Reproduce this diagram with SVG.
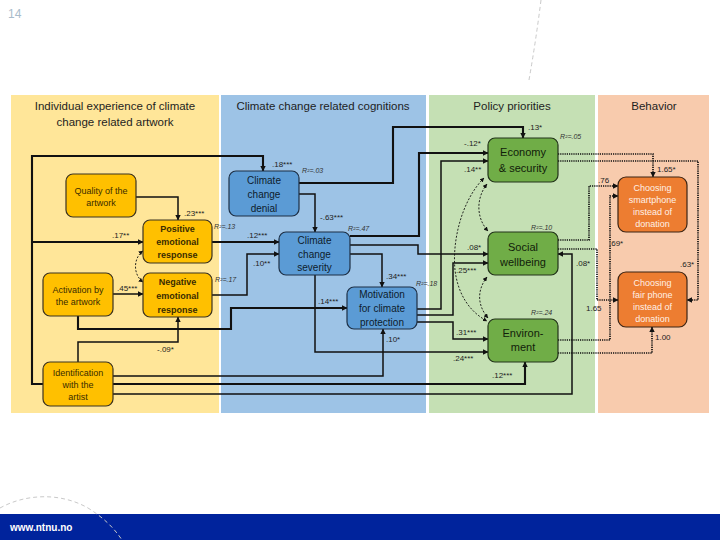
<svg xmlns="http://www.w3.org/2000/svg" width="720" height="540" viewBox="0 0 720 540">
<defs>
<marker id="ah" viewBox="0 0 6 6" refX="5.6" refY="3" markerWidth="5.5" markerHeight="5.5" markerUnits="userSpaceOnUse" orient="auto-start-reverse"><path d="M0,0 L6,3 L0,6 z" fill="#111"/></marker>
<marker id="as" viewBox="0 0 6 6" refX="5.6" refY="3" markerWidth="4.5" markerHeight="4.5" markerUnits="userSpaceOnUse" orient="auto-start-reverse"><path d="M0,0 L6,3 L0,6 z" fill="#111"/></marker>
</defs>
<style>
text{font-family:"Liberation Sans",Arial,sans-serif}
.title{font-size:11.5px;fill:#1e1e1e;text-anchor:middle}
.nt{text-anchor:middle}
.y rect{fill:#FFC000;stroke:#3b3220;stroke-width:1.2}
.y text{fill:#3a2c00;font-size:9px}
.y text.bo{font-weight:bold;font-size:9px}
.bl rect{fill:#5B9BD5;stroke:#1d2f45;stroke-width:1.2}
.bl text{fill:#0e1c2c;font-size:10px}
.g rect{fill:#70AD47;stroke:#22331a;stroke-width:1.2}
.g text{fill:#10200a;font-size:11px}
.o rect{fill:#ED7D31;stroke:#3b2414;stroke-width:1.2}
.o text{fill:#fff0e6;font-size:9px}
.c{fill:none;stroke:#111;stroke-width:1.5;marker-end:url(#ah)}
.bd{stroke-width:2.1}
.dc{fill:none;stroke:#111;stroke-width:0.9;stroke-dasharray:2 1.6;marker-start:url(#as);marker-end:url(#as)}
.dt{fill:none;stroke:#111;stroke-width:1.7;stroke-dasharray:1.2 1;marker-end:url(#ah)}
.lab{font-size:8px;fill:#222}
.r2{font-size:7px;font-style:italic;fill:#333}
.deco{fill:none;stroke:#c9c9c9;stroke-width:1;stroke-dasharray:4 3}
</style>
<rect width="720" height="540" fill="#fff"/>
<text x="8" y="18" font-size="12" fill="#a9bccb">14</text>
<path class="deco" d="M541,0 Q536,40 529,80"/>

<g id="panels">
<rect x="11" y="95" width="208" height="318" fill="#FFE699"/>
<rect x="221" y="95" width="205" height="318" fill="#9DC3E6"/>
<rect x="429" y="95" width="166" height="318" fill="#C5E0B4"/>
<rect x="598" y="95" width="111" height="318" fill="#F8CBAD"/>
<text class="title" x="115" y="110">Individual experience of climate</text>
<text class="title" x="115" y="126">change related artwork</text>
<text class="title" x="323" y="110">Climate change related cognitions</text>
<text class="title" x="512" y="110">Policy priorities</text>
<text class="title" x="654" y="110">Behavior</text>
</g>

<g id="connectors">
<path class="c bd" d="M43,384 H32 V156 H263 V171"/>
<path class="c bd" d="M32,242 H143"/>
<path class="c" d="M136,197 H178 V220"/>
<path class="c" d="M113,294 H143"/>
<path class="dc" d="M143,251 C133,258 133,275 143,282"/>
<path class="c bd" d="M78,316 V329 H231 V308 H347"/>
<path class="c" d="M78,362 V342 H178 V317"/>
<path class="c" d="M113,376 H383 V329"/>
<path class="c bd" d="M113,384 H525 V362"/>
<path class="c" d="M113,394 H572 V254 H558"/>
<path class="c" d="M299,194 H315 V232"/>
<path class="c bd" d="M299,183 H393 V127 H523 V138"/>
<path class="c bd" d="M212,242 H279"/>
<path class="c" d="M212,295 H247 V254 H279"/>
<path class="c bd" d="M350,236 H419 V153 H488"/>
<path class="c" d="M350,245 H418 V254 H488"/>
<path class="c" d="M350,254 H382 V287"/>
<path class="c" d="M315,275 V352 H488"/>
<path class="c" d="M417,309 H441 V161 H488"/>
<path class="c" d="M417,315 H453 V263 H488"/>
<path class="c" d="M417,322 H453 V339 H488"/>
<path class="dc" d="M487,184 C476,198 476,218 488,231"/>
<path class="dc" d="M487,277 C477,290 477,305 488,318"/>
<path class="dc" d="M484,178 C462,200 452,240 455,270 C458,295 470,312 487,321"/>
<path class="dt" d="M558,154 H653 V177"/>
<path class="dt" d="M558,161 H698 V300 H687"/>
<path class="dt" d="M558,240 H589 V186 H618"/>
<path class="dt" d="M558,249 H597 V300 H618"/>
<path class="dt" d="M558,340 H610 V196 H618"/>
<path class="dt" d="M558,353 H652 V327"/>

<text class="lab" x="272" y="167">.18***</text>
<text class="lab" x="184" y="216">.23***</text>
<text class="lab" x="112" y="238">.17**</text>
<text class="lab" x="117" y="291">.45***</text>
<text class="lab" x="318" y="304">.14***</text>
<text class="lab" x="157" y="352">-.09*</text>
<text class="lab" x="386" y="342">.10*</text>
<text class="lab" x="492" y="378">.12***</text>
<text class="lab" x="576" y="266">.08*</text>
<text class="lab" x="320" y="220">-.63***</text>
<text class="lab" x="528" y="130">.13*</text>
<text class="lab" x="247" y="238">.12***</text>
<text class="lab" x="253" y="266">.10**</text>
<text class="lab" x="464" y="146">-.12*</text>
<text class="lab" x="467" y="250">.08*</text>
<text class="lab" x="386" y="279">.34***</text>
<text class="lab" x="453" y="361">.24***</text>
<text class="lab" x="464" y="172">.14**</text>
<text class="lab" x="456" y="273">.25***</text>
<text class="lab" x="456" y="335">.31***</text>
<text class="lab" x="657" y="172">1.65*</text>
<text class="lab" x="680" y="267">.63*</text>
<text class="lab" x="598" y="183">.76</text>
<text class="lab" x="586" y="311">1.65</text>
<text class="lab" x="609" y="246">.69*</text>
<text class="lab" x="655" y="340">1.00</text>

<text class="r2" x="302" y="173">R²=.03</text>
<text class="r2" x="214" y="229">R²=.13</text>
<text class="r2" x="215" y="282">R²=.17</text>
<text class="r2" x="348" y="231">R²=.47</text>
<text class="r2" x="416" y="286">R²=.18</text>
<text class="r2" x="560" y="139">R²=.05</text>
<text class="r2" x="531" y="230">R²=.10</text>
<text class="r2" x="531" y="315">R²=.24</text>
</g>

<g id="quality" class="y"><rect x="66" y="174" width="70" height="43" rx="7"/><text class="nt" x="101" y="194">Quality of the</text><text class="nt" x="101" y="206">artwork</text></g>
<g id="positive" class="y"><rect x="143" y="220" width="69" height="43" rx="7"/><text class="nt bo" x="177.5" y="232">Positive</text><text class="nt bo" x="177.5" y="245">emotional</text><text class="nt bo" x="177.5" y="258">response</text></g>
<g id="negative" class="y"><rect x="143" y="273" width="69" height="44" rx="7"/><text class="nt bo" x="177.5" y="285">Negative</text><text class="nt bo" x="177.5" y="299">emotional</text><text class="nt bo" x="177.5" y="313">response</text></g>
<g id="activation" class="y"><rect x="43" y="273" width="70" height="43" rx="7"/><text class="nt" x="78" y="293">Activation by</text><text class="nt" x="78" y="305">the artwork</text></g>
<g id="identification" class="y"><rect x="43" y="362" width="70" height="44" rx="7"/><text class="nt" x="78" y="376">Identification</text><text class="nt" x="78" y="388">with the</text><text class="nt" x="78" y="400">artist</text></g>

<g id="denial" class="bl"><rect x="229" y="171" width="70" height="45" rx="7"/><text class="nt" x="264" y="184">Climate</text><text class="nt" x="264" y="198">change</text><text class="nt" x="264" y="212">denial</text></g>
<g id="severity" class="bl"><rect x="279" y="232" width="71" height="43" rx="7"/><text class="nt" x="314.5" y="244">Climate</text><text class="nt" x="314.5" y="258">change</text><text class="nt" x="314.5" y="271">severity</text></g>
<g id="motivation" class="bl"><rect x="347" y="287" width="70" height="42" rx="7"/><text class="nt" x="382" y="298">Motivation</text><text class="nt" x="382" y="312">for climate</text><text class="nt" x="382" y="326">protection</text></g>

<g id="economy" class="g"><rect x="488" y="138" width="70" height="44" rx="7"/><text class="nt" x="523" y="156">Economy</text><text class="nt" x="523" y="172">&amp; security</text></g>
<g id="social" class="g"><rect x="488" y="232" width="70" height="43" rx="7"/><text class="nt" x="523" y="251">Social</text><text class="nt" x="523" y="266">wellbeing</text></g>
<g id="environment" class="g"><rect x="488" y="319" width="70" height="43" rx="7"/><text class="nt" x="523" y="337">Environ-</text><text class="nt" x="523" y="351">ment</text></g>

<g id="smartphone" class="o"><rect x="618" y="177" width="69" height="55" rx="8"/><text class="nt" x="652.5" y="191">Choosing</text><text class="nt" x="652.5" y="203">smartphone</text><text class="nt" x="652.5" y="215">instead of</text><text class="nt" x="652.5" y="227">donation</text></g>
<g id="fairphone" class="o"><rect x="618" y="272" width="69" height="55" rx="8"/><text class="nt" x="652.5" y="286">Choosing</text><text class="nt" x="652.5" y="298">fair phone</text><text class="nt" x="652.5" y="310">instead of</text><text class="nt" x="652.5" y="322">donation</text></g>

<g id="footer">
<rect x="0" y="514" width="720" height="26" fill="#00239C"/>
<text x="10" y="531" font-size="10" font-weight="bold" fill="#fff">www.ntnu.no</text>
<path class="deco" d="M0,508 C25,494 60,492 88,508 C104,518 114,528 122,540"/>
</g>
</svg>
